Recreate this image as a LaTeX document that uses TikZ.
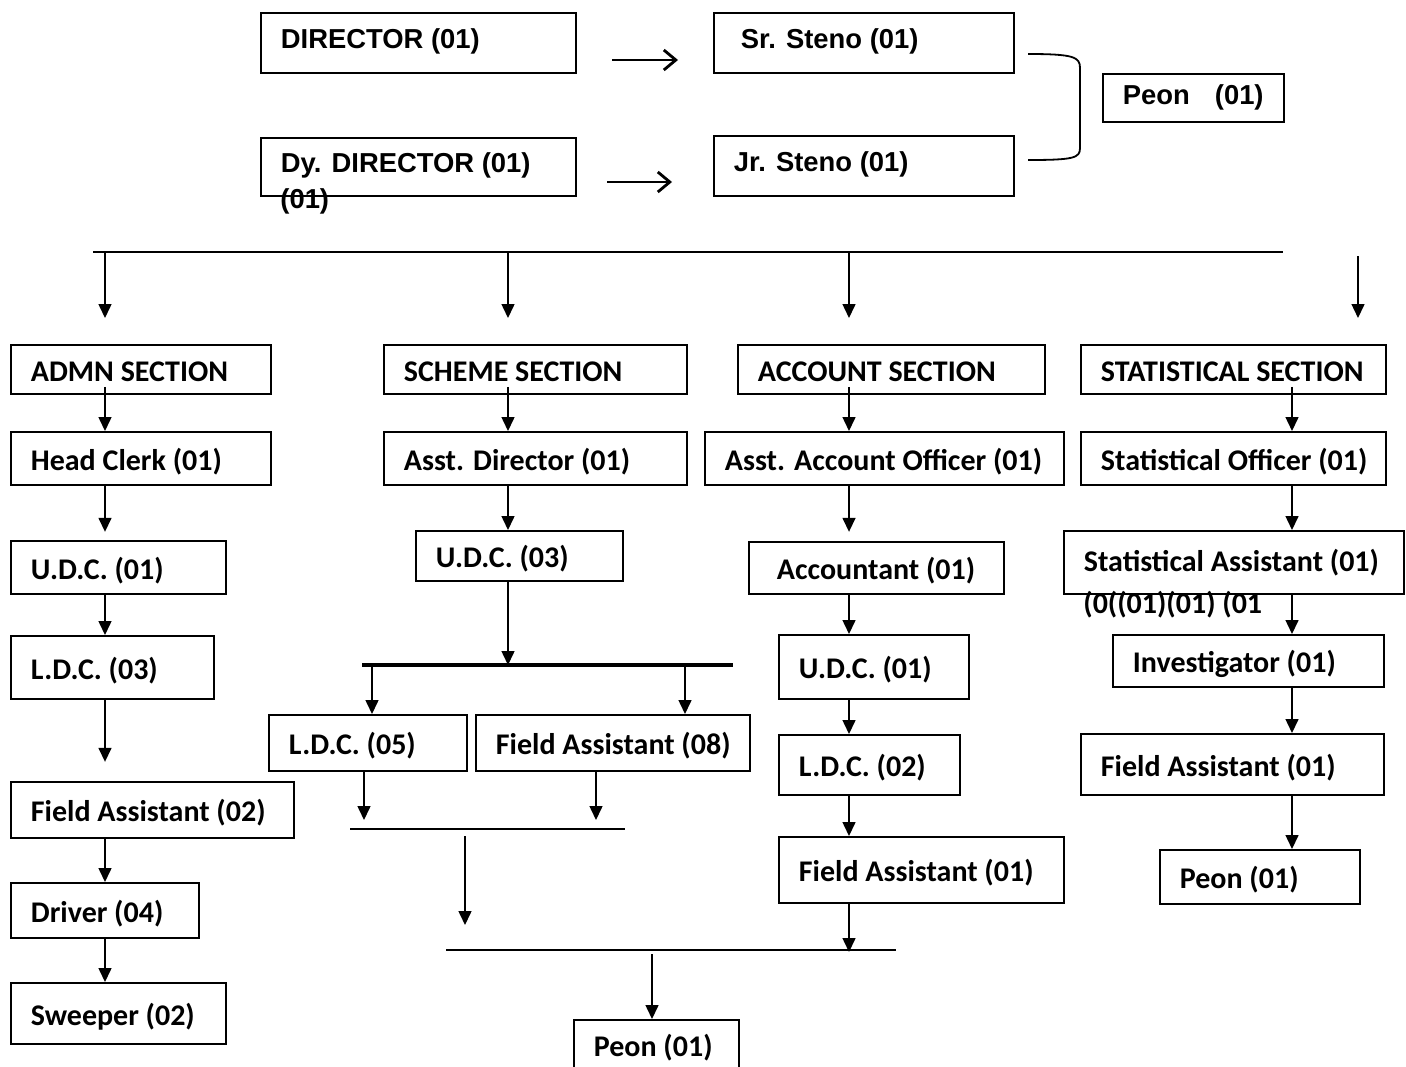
\documentclass[tikz,border=0pt]{standalone}
\usepackage{fontspec}
\newfontfamily\arialfam{Liberation Sans}
\newfontfamily\calfam{Carlito}
\usetikzlibrary{arrows.meta,calc}
\tikzset{
  box/.style={draw,line width=0.9pt,inner sep=0pt,rectangle,anchor=north west},
  ar/.style={font=\arialfam\bfseries\fontsize{13.7}{16}\selectfont},
  arv/.style={ar,text height=9pt,text depth=3pt},
  ca/.style={font=\calfam\bfseries\fontsize{15}{18}\selectfont},
  cav/.style={ca,text height=14pt,text depth=2pt},
  stray/.style={anchor=west,inner sep=0pt},
  arr/.style={line width=0.75pt,-{Triangle[length=7pt,width=6.5pt]}},
  sidearr/.style={line width=1.4pt,-{Straight Barb[length=6pt,width=10pt,line width=1.4pt]}},
  hline/.style={line width=1pt},
  boldline/.style={line width=2.2pt},
  brace line/.style={line width=0.9pt}
}
% #1 pad, #2 name, #3 font style, #4 x1, #5 y1, #6 x2, #7 y2, #8 text
\newcommand\mkbox[8][10pt]{%
  \pgfmathsetmacro\bxw{(#6-#4)*0.5}%
  \pgfmathsetmacro\bxh{(#7-#5)*0.5}%
  \node[box,#3,minimum width=\bxw pt,minimum height=\bxh pt] (#2) at (#4,#5)
    {\makebox[\bxw pt][l]{\hspace*{#1}#8}};%
}
\begin{document}
\begin{tikzpicture}[x=0.5pt,y=-0.5pt]
\useasboundingbox (0,0) rectangle (1406,1066);
\fill[white] (0,0) rectangle (1406,1066);

% ---- top block ----
\mkbox{dir}{arv}{260}{12}{575}{72}{DIRECTOR (01)}
\mkbox[13.5pt]{srs}{arv}{713}{12}{1013}{72}{Sr. Steno (01)}
\mkbox{dydir}{arv}{260}{137}{575}{195}{Dy. DIRECTOR (01)}
\node[ar,stray] (dyx) at (280,201) {(01)};
\mkbox{jrs}{arv}{713}{135}{1013}{195}{Jr. Steno (01)}
\mkbox{peont}{ar}{1102}{73}{1283}{121}{Peon\hspace{12.5pt}(01)}

\coordinate (s1a) at (612,60); \coordinate (s1b) at (678,60);
\coordinate (s2a) at (607,182); \coordinate (s2b) at (672,182);
\draw[sidearr] (s1a) -- (s1b);
\draw[sidearr] (s2a) -- (s2b);

\draw[brace line] (1028,54) .. controls (1074,54) and (1080,57) .. (1080,68)
  -- (1080,148) .. controls (1080,158) and (1074,160) .. (1028,160);

% ---- main distribution line ----
\coordinate (h1) at (93,252); \coordinate (h2) at (1283,252);
\draw[hline] (h1) -- (h2);
\coordinate (cA) at (105,0);
\coordinate (cS) at (508,0);
\coordinate (cC) at (849,0);
\coordinate (cT) at (1292,0);
\draw[arr] (cA |- h1) -- ++(0,66);
\draw[arr] (cS |- h1) -- ++(0,66);
\draw[arr] (cC |- h1) -- ++(0,66);
\coordinate (r1) at (1358,256); \coordinate (r2) at (1358,318);
\draw[arr] (r1) -- (r2);

% ---- ADMN column ----
\mkbox{admn}{cav}{10}{344}{270}{393}{ADMN SECTION}
\mkbox{hc}{cav}{10}{431}{270}{484}{Head Clerk (01)}
\mkbox{udcA}{cav}{10}{540}{225}{593}{U.D.C. (01)}
\mkbox{ldcA}{cav}{10}{635}{213}{698}{L.D.C. (03)}
\mkbox{faA}{cav}{10}{781}{293}{837}{Field Assistant (02)}
\mkbox{drv}{cav}{10}{882}{198}{937}{Driver (04)}
\mkbox{swp}{cav}{10}{982}{225}{1043}{Sweeper (02)}
\draw[arr] ($(cA |- admn.south)+(0,-8)$) -- (cA |- hc.north);
\draw[arr] (cA |- hc.south) -- ++(0,46);
\draw[arr] (cA |- udcA.south) -- (cA |- ldcA.north);
\draw[arr] (cA |- ldcA.south) -- ++(0,62);
\draw[arr] (cA |- faA.south) -- (cA |- drv.north);
\draw[arr] (cA |- drv.south) -- (cA |- swp.north);

% ---- SCHEME column ----
\mkbox{sch}{cav}{383}{344}{686}{393}{SCHEME SECTION}
\mkbox{ad}{cav}{383}{431}{686}{484}{Asst. Director (01)}
\mkbox{udcS}{cav}{415}{530}{622}{580}{U.D.C. (03)}
\mkbox{ldcS}{cav}{268}{714}{466}{770}{L.D.C. (05)}
\mkbox{faS}{cav}{475}{714}{749}{770}{Field Assistant (08)}
\mkbox{peonB}{ca}{573}{1019}{738}{1075}{Peon (01)}
\draw[arr] ($(cS |- sch.south)+(0,-8)$) -- (cS |- ad.north);
\draw[arr] (cS |- ad.south) -- (cS |- udcS.north);
\coordinate (t1) at (362,665); \coordinate (t2) at (733,665);
\draw[boldline] (t1) -- (t2);
\draw[arr] (cS |- udcS.south) -- (cS |- t1);
\coordinate (b1) at (372,665); \coordinate (b2) at (685,665);
\draw[arr] (b1) -- (b1 |- ldcS.north);
\draw[arr] (b2) -- (b2 |- faS.north);
\coordinate (d1) at (364,820); \coordinate (d2) at (596,820);
\draw[arr] (d1 |- ldcS.south) -- (d1);
\draw[arr] (d2 |- faS.south) -- (d2);
\coordinate (m1) at (350,829); \coordinate (m2) at (625,829);
\draw[hline] (m1) -- (m2);
\coordinate (e1) at (465,836); \coordinate (e2) at (465,925);
\draw[arr] (e1) -- (e2);
\coordinate (n1) at (446,950); \coordinate (n2) at (896,950);
\draw[hline] (n1) -- (n2);
\coordinate (f1) at (652,954);
\draw[arr] (f1) -- (f1 |- peonB.north);

% ---- ACCOUNT column ----
\mkbox{acc}{cav}{737}{344}{1044}{393}{ACCOUNT SECTION}
\mkbox{aao}{cav}{704}{431}{1063}{484}{Asst. Account Officer (01)}
\mkbox[14pt]{acct}{cav}{748}{541}{1003}{593}{Accountant (01)}
\mkbox{udcC}{cav}{778}{634}{968}{698}{U.D.C. (01)}
\mkbox{ldcC}{cav}{778}{734}{959}{794}{L.D.C. (02)}
\mkbox{faC}{cav}{778}{836}{1063}{902}{Field Assistant (01)}
\draw[arr] ($(cC |- acc.south)+(0,-8)$) -- (cC |- aao.north);
\draw[arr] (cC |- aao.south) -- ++(0,46);
\draw[arr] (cC |- acct.south) -- (cC |- udcC.north);
\draw[arr] (cC |- udcC.south) -- (cC |- ldcC.north);
\draw[arr] (cC |- ldcC.south) -- (cC |- faC.north);
\draw[arr] (cC |- faC.south) -- ($(cC |- n1)+(0,2)$);

% ---- STATISTICAL column ----
\mkbox{stat}{cav}{1080}{344}{1385}{393}{STATISTICAL SECTION}
\mkbox{so}{cav}{1080}{431}{1385}{484}{Statistical Officer (01)}
\mkbox{sa}{ca}{1063}{530}{1403}{593}{Statistical Assistant (01)}
\node[ca,stray] (sax) at (1083,605) {(0((01)(01) (01};
\mkbox{inv}{cav}{1112}{634}{1383}{686}{Investigator (01)}
\mkbox{faT}{cav}{1080}{733}{1383}{794}{Field Assistant (01)}
\mkbox{peonT}{cav}{1159}{849}{1359}{903}{Peon (01)}
\draw[arr] ($(cT |- stat.south)+(0,-8)$) -- (cT |- so.north);
\draw[arr] (cT |- so.south) -- (cT |- sa.north);
\draw[arr] (cT |- sa.south) -- (cT |- inv.north);
\draw[arr] (cT |- inv.south) -- (cT |- faT.north);
\draw[arr] (cT |- faT.south) -- (cT |- peonT.north);
\end{tikzpicture}
\end{document}
